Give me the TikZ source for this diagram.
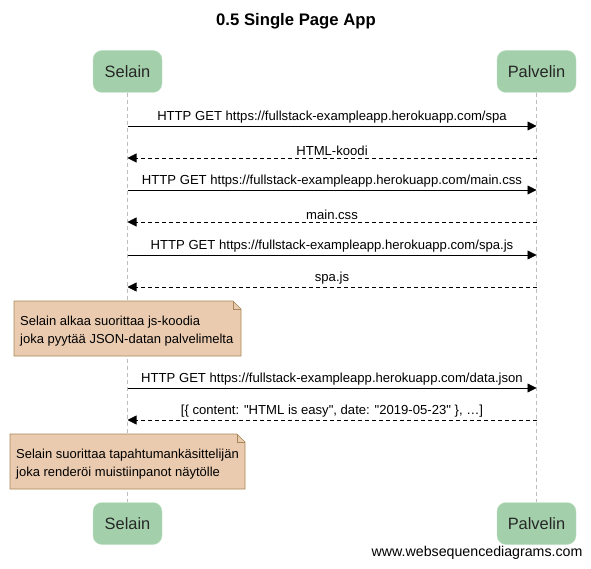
\documentclass[tikz,border=0pt]{standalone}
\usepackage{fontspec}
\setmainfont{Liberation Sans}[Ligatures=TeXOff]
\usetikzlibrary{arrows.meta,shapes.misc}
\definecolor{partfill}{RGB}{163,208,171}
\definecolor{partdraw}{RGB}{190,225,196}
\definecolor{notefill}{RGB}{234,203,176}
\definecolor{notedraw}{RGB}{168,136,88}
\definecolor{lifegray}{RGB}{190,190,190}
\tikzset{
  x=1pt,y=-1pt,
  part/.style={draw=partdraw,fill=partfill,rounded corners=9pt,minimum height=42pt,inner xsep=8pt,font=\fontsize{16.4}{19}\selectfont,text=black!85},
  msglbl/.style={font=\fontsize{13.1}{15}\selectfont,inner sep=0pt},
  req/.style={draw=black,line width=0.8pt,-{Triangle[length=9pt,width=9pt]}},
  resp/.style={draw=black,line width=0.8pt,dash pattern=on 4pt off 3pt,-{Triangle[length=9pt,width=9pt]}},
  life/.style={draw=lifegray,line width=0.6pt,dash pattern=on 4pt off 3pt},
  notetxt/.style={font=\fontsize{13}{18}\selectfont,align=left,inner sep=0pt,anchor=north west},
}
\begin{document}
\begin{tikzpicture}
\useasboundingbox (0,0) rectangle (591,569);
% title
\node[font=\bfseries\fontsize{16.7}{19}\selectfont] (title) at (296,21) {0.5 Single Page App};
% participants
\node[part,minimum width=69pt] (s1) at (127.5,71.5) {Selain};
\node[part,minimum width=79pt] (p1) at (536.5,71.5) {Palvelin};
\node[part,minimum width=69pt] (s2) at (127.5,523.5) {Selain};
\node[part,minimum width=79pt] (p2) at (536.5,523.5) {Palvelin};
% lifelines
\draw[life] (s1.south) -- (s2.north);
\draw[life] (p1.south) -- (p2.north);
% message endpoints
\foreach \n/\y in {1/126,2/158,3/190,4/222,5/255,6/287,7/388,8/420}{
  \coordinate (a\n) at (127.5,\y);
  \coordinate (b\n) at (536.5,\y);
}
\draw[req] (a1) -- (b1) node[msglbl,midway,above=2pt] (m1) {HTTP GET https://fullstack-exampleapp.herokuapp.com/spa};
\draw[resp] (b2) -- (a2) node[msglbl,midway,above=2pt] (m2) {HTML-koodi};
\draw[req] (a3) -- (b3) node[msglbl,midway,above=2pt] (m3) {HTTP GET https://fullstack-exampleapp.herokuapp.com/main.css};
\draw[resp] (b4) -- (a4) node[msglbl,midway,above=2pt] (m4) {main.css};
\draw[req] (a5) -- (b5) node[msglbl,midway,above=2pt] (m5) {HTTP GET https://fullstack-exampleapp.herokuapp.com/spa.js};
\draw[resp] (b6) -- (a6) node[msglbl,midway,above=2pt] (m6) {spa.js};
\draw[req] (a7) -- (b7) node[msglbl,midway,above=2pt] (m7) {HTTP GET https://fullstack-exampleapp.herokuapp.com/data.json};
\draw[resp] (b8) -- (a8) node[msglbl,midway,above=2pt] (m8) {[\{ content: "HTML is easy", date: "2019-05-23" \}, …]};
% notes
\draw[draw=notedraw,fill=notefill,line width=0.7pt] (14,301) -- (233,301) -- (241,309) -- (241,356) -- (14,356) -- cycle;
\draw[draw=notedraw,line width=0.7pt] (233,301) -- (233,309) -- (241,309);
\node[notetxt] (n1) at (20,315.5) {Selain alkaa suorittaa js-koodia\\joka pyytää JSON-datan palvelimelta};
\draw[draw=notedraw,fill=notefill,line width=0.7pt] (10,434) -- (237,434) -- (245,442) -- (245,489) -- (10,489) -- cycle;
\draw[draw=notedraw,line width=0.7pt] (237,434) -- (237,442) -- (245,442);
\node[notetxt] (n2) at (16,448.5) {Selain suorittaa tapahtumankäsittelijän\\joka renderöi muistiinpanot näytölle};
% footer
\node[font=\fontsize{14.2}{17}\selectfont,anchor=east] (foot) at (586,553) {www.websequencediagrams.com};
\end{tikzpicture}
\end{document}
